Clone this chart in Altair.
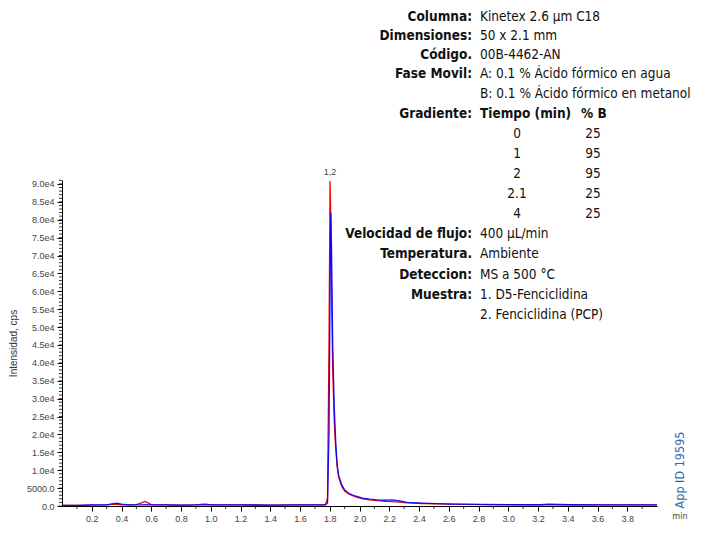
import altair as alt
import pandas as pd

# ---------------- data ----------------
time_min = [0.00, 0.10, 0.20, 0.30, 0.34, 0.37, 0.40, 0.45, 0.50, 0.53, 0.56, 0.60, 0.70, 0.80,
            0.90, 0.95, 0.97, 1.00, 1.20, 1.40, 1.60, 1.70, 1.77, 1.785, 1.795, 1.802, 1.807,
            1.812, 1.82, 1.83, 1.84, 1.85, 1.86, 1.88, 1.90, 1.93, 1.97, 2.02, 2.07, 2.12,
            2.17, 2.22, 2.27, 2.32, 2.42, 2.52, 2.62, 2.82, 3.02, 3.22, 3.27, 3.42, 3.62,
            3.82, 4.00]
d5_pcp = [200, 200, 250, 300, 500, 450, 350, 300, 400, 800, 1300, 400, 300, 250,
          300, 500, 550, 300, 300, 250, 300, 300, 350, 2000, 45000, 90800, 80000,
          60000, 38000, 24000, 16000, 11000, 8000, 5500, 4200, 3300, 2600, 2000, 1700, 1500,
          1300, 1200, 1100, 900, 700, 600, 500, 400, 350, 300, 400, 300, 300,
          300, 300]
pcp = [200, 200, 300, 300, 600, 800, 500, 300, 300, 300, 350, 300, 300, 250,
       300, 350, 400, 300, 300, 250, 300, 300, 300, 800, 20000, 60000, 82000,
       72000, 45000, 28000, 18000, 11500, 8500, 6000, 4500, 3500, 2800, 2200, 1900, 1700,
       1600, 1700, 1400, 1000, 800, 650, 550, 450, 400, 350, 500, 350, 300,
       300, 300]

y_major = list(range(0, 90001, 5000))
y_minor = list(range(0, 91001, 1000))
x_major = [round(0.2 * i, 1) for i in range(1, 20)]
x_minor = [round(0.1 * i, 1) for i in range(1, 40, 2)]

peak_label = "1,2"
peak_time = 1.802
peak_value = 90800

info_labels = ["Columna:", "Dimensiones:", "Código.", "Fase Movil:", "", "Gradiente:",
               "", "", "", "", "", "Velocidad de flujo:", "Temperatura.", "Deteccion:",
               "Muestra:", ""]
info_values = ["Kinetex 2.6 µm C18", "50 x 2.1 mm", "00B-4462-AN",
               "A: 0.1 % Ácido fórmico en agua", "B: 0.1 % Ácido fórmico en metanol",
               "", "", "", "", "", "", "400 µL/min", "Ambiente", "MS a 500 °C",
               "1. D5-Fenciclidina", "2. Fenciclidina (PCP)"]
grad_header = ["Tiempo (min)", "% B"]
grad_time = ["0", "1", "2", "2.1", "4"]
grad_pct_b = ["25", "95", "95", "25", "25"]
app_id = "App ID 19595"
x_unit = "min"
y_title = "Intensidad, cps"

# ---------------- layout ----------------
OX, OY = 62, 180  # page position of plot origin
W, H = 595, 326
FONT = "DejaVu Sans Condensed, Liberation Sans Narrow, Roboto Condensed, sans-serif"
row_y = [17, 36, 55, 74, 94, 114, 134, 154, 174, 194, 214, 234, 254, 275, 295, 315]
COLON_X, VALUE_X = 472, 480

df = pd.DataFrame({"t": time_min, "d5": d5_pcp, "pcp": pcp})

xs = alt.Scale(domain=[0, 4.0], nice=False, zero=False)
ys = alt.Scale(domain=[0, 91100], nice=False)

x_axis = alt.Axis(values=x_major, format=".1f", title=None, grid=False, tickSize=5,
                  labelFontSize=9, labelColor="#444", domainColor="#000", tickColor="#000",
                  labelFont="Liberation Sans", labelPadding=3, labelOverlap=False)
lbl_expr = ("datum.value == 0 ? '0.0' : datum.value < 10000 ? format(datum.value, '.1f') : "
            "replace(format(datum.value, '.1e'), 'e+', 'e')")
y_axis = alt.Axis(values=y_major, labelExpr=lbl_expr, title=y_title, grid=False, tickSize=5,
                  labelFontSize=9, labelColor="#444", domainColor="#000", tickColor="#000",
                  labelFont="Liberation Sans", titleFont="Liberation Sans",
                  titleFontSize=10, titleFontWeight="normal", titleColor="#333",
                  titlePadding=8, labelOverlap=False, labelPadding=3)

base = alt.Chart(df)
red = base.mark_line(color="#ff0000", strokeWidth=1.3).encode(
    x=alt.X("t:Q", scale=xs, axis=x_axis),
    y=alt.Y("d5:Q", scale=ys, axis=y_axis),
)
blue = base.mark_line(color="#0000ff", strokeWidth=1.3, opacity=0.9).encode(
    x=alt.X("t:Q", scale=xs, axis=x_axis),
    y=alt.Y("pcp:Q", scale=ys, axis=y_axis),
)

yminor = alt.Chart(pd.DataFrame({"v": y_minor})).mark_rule(color="#000", strokeWidth=0.8).encode(
    y=alt.Y("v:Q", scale=ys, axis=y_axis), x=alt.value(-3), x2=alt.value(0))
xminor = alt.Chart(pd.DataFrame({"v": x_minor})).mark_rule(color="#000", strokeWidth=0.8).encode(
    x=alt.X("v:Q", scale=xs, axis=x_axis), y=alt.value(H), y2=alt.value(H + 3))

peak = alt.Chart(pd.DataFrame({"t": [peak_time], "v": [peak_value], "s": [peak_label]})).mark_text(
    fontSize=9, color="#444", dy=-9, font="Liberation Sans").encode(
    x=alt.X("t:Q", scale=xs, axis=x_axis), y=alt.Y("v:Q", scale=ys, axis=y_axis), text="s:N")

layers = [red, blue, yminor, xminor, peak]

def txt(s, px, py, align, bold=False, size=13.5, color="#111", angle=0):
    return alt.Chart(pd.DataFrame({"a": [0]})).mark_text(
        text=s, align=align, baseline="middle", fontSize=size, font=FONT,
        fontWeight="bold" if bold else "normal", color=color, angle=angle
    ).encode(x=alt.value(px - OX), y=alt.value(py - OY))

for lab, val, yy in zip(info_labels, info_values, row_y):
    if lab:
        layers.append(txt(lab, COLON_X, yy, "right", bold=True))
    if val:
        layers.append(txt(val, VALUE_X, yy, "left"))

layers.append(txt(grad_header[0], VALUE_X, row_y[5], "left", bold=True))
layers.append(txt(grad_header[1], 581, row_y[5], "left", bold=True))
for i, (tv, pv) in enumerate(zip(grad_time, grad_pct_b)):
    layers.append(txt(tv, 517, row_y[6 + i], "center"))
    layers.append(txt(pv, 593, row_y[6 + i], "center"))

layers.append(txt(x_unit, 680, 516, "center", size=9, color="#444"))
layers.append(txt(app_id, 680, 470, "center", size=12.5, color="#1f6fb8", angle=270))

chart = alt.layer(*layers).properties(
    width=W, height=H,
    autosize=alt.AutoSizeParams(type="none"),
    padding={"left": OX - 8, "top": OY - 8, "right": 52, "bottom": 36},
).configure(background="white", view=alt.ViewConfig(stroke=None))

chart.save("out.html", embed_options={"renderer": "svg", "actions": False})
